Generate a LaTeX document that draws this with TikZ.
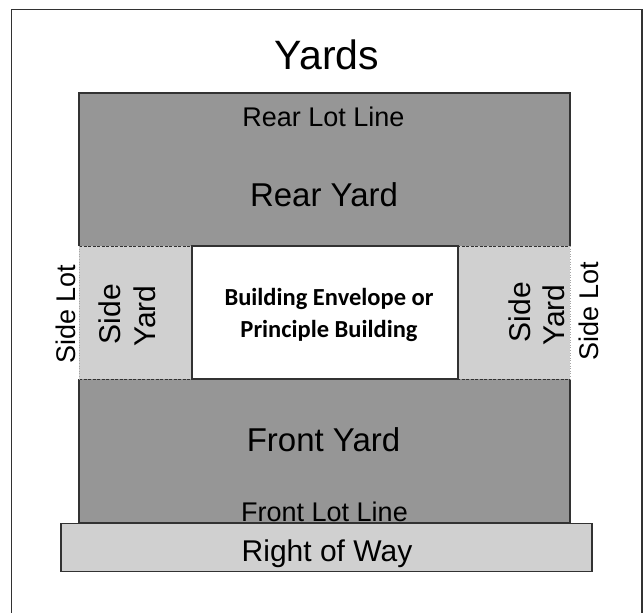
\documentclass[tikz,border=0pt]{standalone}
\usepackage{fontspec}
\setmainfont{Liberation Sans}
\newfontfamily\carlito{Carlito}

\definecolor{grisoscuro}{RGB}{150,150,150}
\definecolor{grisclaro}{RGB}{208,208,208}
\definecolor{trazo}{RGB}{50,50,50}

\tikzstyle{zona}= [rectangle,fill=grisoscuro,inner sep=0pt,outer sep=0pt]
\tikzstyle{lateral}= [rectangle,fill=grisclaro,inner sep=0pt,outer sep=0pt]
\tikzstyle{edificio}= [rectangle,draw=trazo,line width=1.2pt,fill=white,inner sep=0pt,outer sep=0pt]
\tikzstyle{via}= [rectangle,draw=trazo,line width=1.3pt,fill=grisclaro,inner sep=0pt,outer sep=0pt]
\tikzstyle{marco}= [rectangle,draw=trazo,line width=1.6pt,inner sep=0pt,outer sep=0pt]
\tikzstyle{borde}= [trazo,line width=1.3pt]
\tikzstyle{limite}= [trazo,line width=1pt,dash pattern=on 3pt off 1.5pt]
\tikzstyle{lindero}= [gray!70,line width=0.6pt,dotted]
\tikzstyle{etiqueta}= [inner sep=0pt,anchor=base,text=black]
\tikzstyle{vertical}= [inner sep=0pt,anchor=base,text=black,rotate=90]

\begin{document}
\begin{tikzpicture}[x=1pt,y=-1pt]
		\useasboundingbox (0,0) rectangle (644,612);
		\node (marco) at (326.75,320) [marco,minimum width=630.5pt,minimum height=621pt] {};

		\node (trasero) at (324.5,169.5) [zona,minimum width=491pt,minimum height=153pt] {};
		\node (franja) at (324.5,312.5) [lateral,minimum width=491pt,minimum height=133pt] {};
		\node (delantero) at (324.5,451) [zona,minimum width=491pt,minimum height=144pt] {};

		\draw[borde] (trasero.south west) -- (trasero.north west) -- (trasero.north east) -- (trasero.south east);
		\draw[borde] (delantero.north west) -- (delantero.south west) -- (delantero.south east) -- (delantero.north east);
		\draw[limite] (trasero.south west) -- (trasero.south east);
		\draw[limite] (delantero.north west) -- (delantero.north east);
		\draw[lindero] (franja.north west) -- (franja.south west);
		\draw[lindero] (franja.north east) -- (franja.south east);

		\node (edificio) at (325,312.5) [edificio,minimum width=266pt,minimum height=133pt] {};
		\node (via) at (326.5,547.5) [via,minimum width=531pt,minimum height=48pt] {};

		\node (titulo) at (327,70) [etiqueta,font=\fontsize{41}{41}\selectfont] {Yards};
		\node (lineatrasera) at (323.5,126.5) [etiqueta,font=\fontsize{27}{27}\selectfont] {Rear Lot Line};
		\node (patiotrasero) at (324,206.5) [etiqueta,font=\fontsize{33}{33}\selectfont] {Rear Yard};
		\node (patiodelantero) at (323.5,451.5) [etiqueta,font=\fontsize{33}{33}\selectfont] {Front Yard};
		\node (lineadelantera) at (324.5,521) [etiqueta,font=\fontsize{27}{27}\selectfont] {Front Lot Line};
		\node (derechovia) at (327,561.5) [etiqueta,font=\fontsize{30}{30}\selectfont] {Right of Way};

		\node (textoedificio) at (329,315) [inner sep=0pt,align=center,font=\carlito\bfseries\fontsize{24.5}{32}\selectfont] {Building Envelope or\\Principle Building};

		\node (loteizq) at (75,314) [vertical,font=\fontsize{27}{27}\selectfont] {Side Lot};
		\node (ladoizq) at (120,314) [vertical,font=\fontsize{30}{30}\selectfont] {Side};
		\node (yardaizq) at (155,316) [vertical,font=\fontsize{30}{30}\selectfont] {Yard};
		\node (ladoder) at (530,312) [vertical,font=\fontsize{30}{30}\selectfont] {Side};
		\node (yardader) at (564,315) [vertical,font=\fontsize{30}{30}\selectfont] {Yard};
		\node (loteder) at (598,311) [vertical,font=\fontsize{27}{27}\selectfont] {Side Lot};
\end{tikzpicture}
\end{document}
